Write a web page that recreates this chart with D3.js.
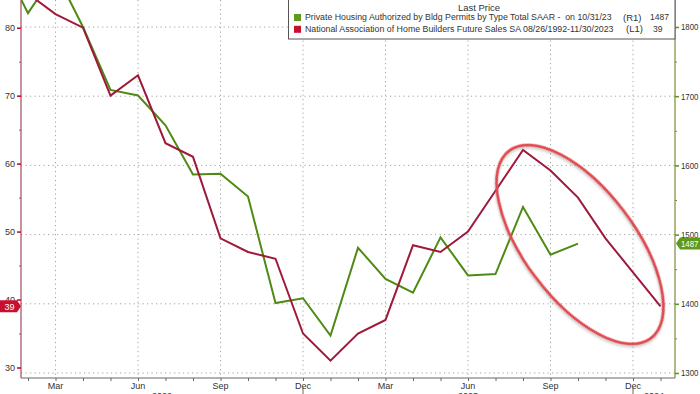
<!DOCTYPE html>
<html>
<head>
<meta charset="utf-8">
<script src="https://cdn.jsdelivr.net/npm/d3@7/dist/d3.min.js"></script>
<style>
  html, body { margin: 0; padding: 0; background: #fff; }
  svg { display: block; font-family: "Liberation Sans", Arial, sans-serif; }
</style>
</head>
<body>
<svg id="chart" width="700" height="394"></svg>
<script>
// ---------------- DATA ----------------
// Plotted months (index 0 = Jan 2022 ... 24 = Jan 2024)
const months = ["Jan 2022","Feb 2022","Mar 2022","Apr 2022","May 2022","Jun 2022","Jul 2022","Aug 2022","Sep 2022","Oct 2022","Nov 2022","Dec 2022",
                "Jan 2023","Feb 2023","Mar 2023","Apr 2023","May 2023","Jun 2023","Jul 2023","Aug 2023","Sep 2023","Oct 2023","Nov 2023","Dec 2023",
                "Jan 2024"];
// Private Housing Authorized by Bldg Permits, SAAR (thousands) – right axis
const permits = [1899, 1820, 1879, 1800, 1709, 1701, 1658, 1587, 1588, 1555, 1401, 1408,
                 1354, 1481, 1436, 1416, 1496, 1441, 1443, 1540, 1471, 1487];
// NAHB Future Sales index – left axis (plotted position, aligned to months)
const nahbFutureSales = [null, 85, 82, 80, 70, 73, 63, 61, 49, 47, 46, 35,
                         31, 35, 37, 48, 47, 50, 56, 62, 59, 55, 49, 44, 39];
const leftTicks = [30, 40, 50, 60, 70, 80];
const leftMinorTicks = [35, 45, 55, 65, 75];
const rightTicks = [1300, 1400, 1500, 1600, 1700, 1800];
const rightMinorTicks = [1350, 1450, 1550, 1650, 1750];
const quarterLabels = [{i: 2, t: "Mar"}, {i: 5, t: "Jun"}, {i: 8, t: "Sep"}, {i: 11, t: "Dec"},
                       {i: 14, t: "Mar"}, {i: 17, t: "Jun"}, {i: 20, t: "Sep"}, {i: 23, t: "Dec"}];
const yearLabels = ["2022", "2023", "2024"];
const legendTitle = "Last Price";
const legendItems = [
  {name: "Private Housing Authorized by Bldg Permits by Type Total SAAR -  on 10/31/23", axis: "(R1)", last: "1487"},
  {name: "National Association of Home Builders Future Sales SA 08/26/1992-11/30/2023", axis: "(L1)", last: "39"}
];
const lastPermits = 1487;
const lastNahb = 39;

// ---------------- LAYOUT ----------------
const L = 21, R = 675, T = 0, B = 378;
const svg = d3.select("#chart");
const greenLine = "#4f8a14", redLine = "#9e1a3a";
const greenBox = "#5e9a1c", redBox = "#c8102e";

// squeeze a text horizontally (around its anchor x) so that it is no wider than maxW
function fitX(sel, maxW) {
  sel.each(function() {
    const t = d3.select(this);
    const w = this.getComputedTextLength();
    if (w > maxW) {
      const ax = +t.attr("x") || 0;
      const s = maxW / w;
      t.attr("transform", `translate(${ax},0) scale(${s},1) translate(${-ax},0)`);
    }
  });
}

const x = d3.scaleLinear().domain([0, 24]).range([0.5, 660.5]);
const yLeft = d3.scaleLinear().domain([30, 80]).range([367.5, 27.7]);
const yRight = d3.scaleLinear().domain([1300, 1800]).range([373, 27]);

const defs = svg.append("defs");
defs.append("clipPath").attr("id", "plotclip")
  .append("rect").attr("x", L).attr("y", T).attr("width", R - L).attr("height", B - T);
const f = defs.append("filter").attr("id", "shadow").attr("x", "-20%").attr("y", "-20%").attr("width", "140%").attr("height", "140%");
f.append("feDropShadow").attr("dx", 1.5).attr("dy", 1.5).attr("stdDeviation", 1.2)
  .attr("flood-color", "#888").attr("flood-opacity", 0.45);

// gridlines
const grid = svg.append("g");
grid.selectAll("line.h").data(rightTicks).enter().append("line")
  .attr("x1", L).attr("x2", R).attr("y1", d => yRight(d)).attr("y2", d => yRight(d))
  .attr("stroke", "#a0a0a0").attr("stroke-width", 1).attr("stroke-dasharray", "1.2,3.3");
grid.selectAll("line.v").data(quarterLabels).enter().append("line")
  .attr("x1", d => x(d.i)).attr("x2", d => x(d.i)).attr("y1", T).attr("y2", B)
  .attr("stroke", "#a0a0a0").attr("stroke-width", 1).attr("stroke-dasharray", "1.2,3.3");

// series
const plot = svg.append("g").attr("clip-path", "url(#plotclip)");
const lineR = d3.line().defined(d => d != null).x((d, i) => x(i)).y(d => yRight(d));
const lineL = d3.line().defined(d => d != null).x((d, i) => x(i)).y(d => yLeft(d));
plot.append("path").datum(permits).attr("d", lineR)
  .attr("fill", "none").attr("stroke", greenLine).attr("stroke-width", 2).attr("stroke-linejoin", "miter");
plot.append("path").datum(nahbFutureSales).attr("d", lineL)
  .attr("fill", "none").attr("stroke", redLine).attr("stroke-width", 2).attr("stroke-linejoin", "miter");

// annotation ellipse
svg.append("ellipse")
  .attr("cx", 0).attr("cy", 0).attr("rx", 117.5).attr("ry", 55.2)
  .attr("transform", "translate(580,244.5) rotate(52.9)")
  .attr("fill", "none").attr("stroke", "#e0484f").attr("stroke-width", 2.8)
  .attr("filter", "url(#shadow)");

// left axis
svg.append("line").attr("x1", L).attr("x2", L).attr("y1", T).attr("y2", B)
  .attr("stroke", "#a04a60").attr("stroke-width", 1.2);
const axL = d3.axisLeft(yLeft).tickValues(leftTicks).tickSize(4).tickPadding(2);
const gL = svg.append("g").attr("transform", `translate(${L},0)`).call(axL);
gL.select(".domain").remove();
gL.selectAll(".tick line").attr("stroke", redBox).attr("stroke-width", 1.6);
gL.selectAll(".tick text").attr("fill", "#333").attr("font-size", 9).attr("font-family", "Liberation Sans, Arial, sans-serif");
const gLm = svg.append("g").attr("transform", `translate(${L},0)`)
  .call(d3.axisLeft(yLeft).tickValues(leftMinorTicks).tickSize(2).tickFormat(""));
gLm.select(".domain").remove();
gLm.selectAll(".tick line").attr("stroke", "#a04a60");

// right axis
svg.append("line").attr("x1", R).attr("x2", R).attr("y1", T).attr("y2", B)
  .attr("stroke", "#7d8a3a").attr("stroke-width", 1.2);
const axR = d3.axisRight(yRight).tickValues(rightTicks).tickSize(4).tickPadding(2).tickFormat(d3.format("d"));
const gR = svg.append("g").attr("transform", `translate(${R},0)`).call(axR);
gR.select(".domain").remove();
gR.selectAll(".tick line").attr("stroke", greenBox).attr("stroke-width", 1.6);
gR.selectAll(".tick text").attr("fill", "#333").attr("font-size", 9)
  .attr("font-family", "Liberation Sans, Arial, sans-serif").call(fitX, 17.5);
const gRm = svg.append("g").attr("transform", `translate(${R},0)`)
  .call(d3.axisRight(yRight).tickValues(rightMinorTicks).tickSize(2).tickFormat(""));
gRm.select(".domain").remove();
gRm.selectAll(".tick line").attr("stroke", "#7d8a3a");

// bottom axis
svg.append("line").attr("x1", L).attr("x2", R).attr("y1", B).attr("y2", B)
  .attr("stroke", "#666").attr("stroke-width", 1.2);
const monthIdx = months.map((m, i) => i).filter(i => x(i) >= L && x(i) <= R);
const gB = svg.append("g").attr("transform", `translate(0,${B})`)
  .call(d3.axisBottom(x).tickValues(monthIdx).tickSize(3).tickFormat(""));
gB.select(".domain").remove();
gB.selectAll(".tick line").attr("stroke", "#666");
svg.append("g").selectAll("text").data(quarterLabels).enter().append("text")
  .attr("x", d => x(d.i)).attr("y", 389).attr("text-anchor", "middle")
  .attr("font-size", 9).attr("fill", "#333").text(d => d.t);
// year separators and labels
const yearStarts = [months.indexOf("Jan 2023"), months.indexOf("Jan 2024")];
svg.append("g").selectAll("line").data(yearStarts).enter().append("line")
  .attr("x1", d => x(d - 1)).attr("x2", d => x(d - 1)).attr("y1", 387).attr("y2", 394)
  .attr("stroke", "#666").attr("stroke-width", 1);
const yearCenters = [(L + x(11)) / 2, (x(11) + x(23)) / 2, (x(23) + R) / 2];
svg.append("g").selectAll("text").data(yearLabels).enter().append("text")
  .attr("x", (d, i) => yearCenters[i]).attr("y", 399).attr("text-anchor", "middle")
  .attr("font-size", 9).attr("fill", "#333").text(d => d);

// last-value badges
const yl = yLeft(lastNahb);
svg.append("path")
  .attr("d", `M0,${yl - 6} L17,${yl - 6} L21,${yl} L17,${yl + 6} L0,${yl + 6} Z`)
  .attr("fill", redBox);
svg.append("text").attr("x", 9.5).attr("y", yl + 3.3).attr("text-anchor", "middle")
  .attr("font-size", 9).attr("fill", "#fff").text(lastNahb);
const yr = yRight(lastPermits);
svg.append("path")
  .attr("d", `M${R + 1},${yr} L${R + 5},${yr - 6} L700,${yr - 6} L700,${yr + 6} L${R + 5},${yr + 6} Z`)
  .attr("fill", greenBox);
svg.append("text").attr("x", 681).attr("y", yr + 3.3)
  .attr("font-size", 9).attr("fill", "#fff").text(lastPermits).call(fitX, 17.5);

// legend
const lg = svg.append("g");
lg.append("rect").attr("x", 288.5).attr("y", -2).attr("width", 386.5).attr("height", 41)
  .attr("fill", "#fff").attr("stroke", "#555").attr("stroke-width", 1);
lg.append("text").attr("x", 479).attr("y", 11).attr("text-anchor", "middle")
  .attr("font-size", 9.5).attr("fill", "#333").text(legendTitle);
const rowY = [20.5, 32.3];
const sw = [greenBox, redBox];
const nameLen = [307, 309];
const axisX = [623, 626];
const lastX = [650, 653];
const lastLen = [19, 9.5];
legendItems.forEach((d, i) => {
  lg.append("rect").attr("x", 294).attr("y", rowY[i] - 6.5).attr("width", 7).attr("height", 7).attr("fill", sw[i]);
  lg.append("text").attr("x", 305).attr("y", rowY[i]).attr("font-size", 9.5).attr("fill", "#333")
    .attr("xml:space", "preserve").text(d.name).call(fitX, nameLen[i]);
  lg.append("text").attr("x", axisX[i]).attr("y", rowY[i]).attr("font-size", 9.5).attr("fill", "#333")
    .text(d.axis).call(fitX, 19);
  lg.append("text").attr("x", lastX[i]).attr("y", rowY[i]).attr("font-size", 9.5).attr("fill", "#333")
    .text(d.last).call(fitX, lastLen[i]);
});
</script>
</body>
</html>
